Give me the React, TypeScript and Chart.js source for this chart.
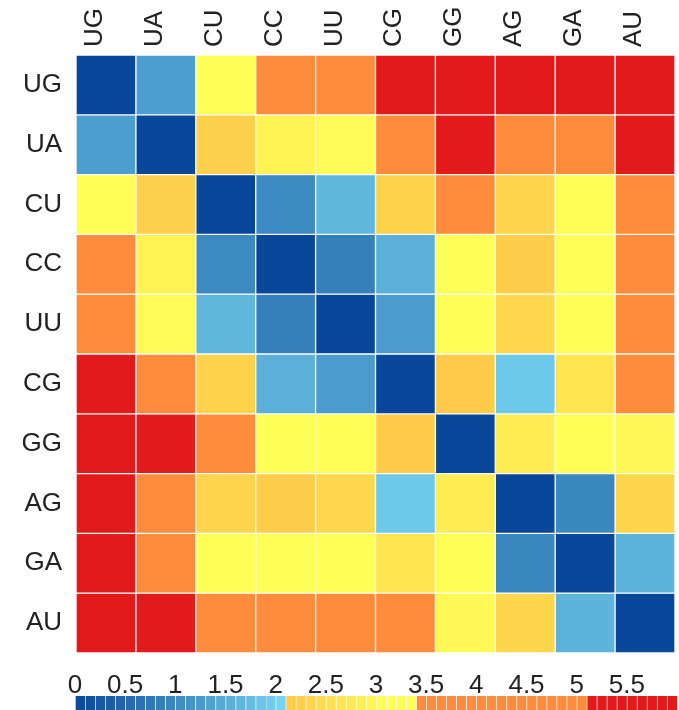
import React, { useEffect, useRef } from "react";
import { Chart, registerables } from "chart.js";

Chart.register(...registerables);

// ---- Data ----
const labels = ["UG", "UA", "CU", "CC", "UU", "CG", "GG", "AG", "GA", "AU"];

const rowUG = [0, 1.3, 3.1, 4.2, 4.4, 5.6, 5.8, 5.5, 5.6, 5.7];
const rowUA = [1.3, 0, 2.23, 2.88, 3.0, 4.4, 5.4, 4.5, 4.6, 5.3];
const rowCU = [3.1, 2.23, 0, 1.02, 1.65, 2.28, 3.8, 2.34, 3.2, 4.0];
const rowCC = [4.2, 2.88, 1.02, 0, 0.85, 1.55, 3.2, 2.19, 3.2, 4.1];
const rowUU = [4.4, 3.0, 1.65, 0.85, 0, 1.27, 3.2, 2.38, 3.2, 4.0];
const rowCG = [5.6, 4.4, 2.28, 1.55, 1.27, 0, 2.15, 1.9, 2.62, 3.9];
const rowGG = [5.8, 5.4, 3.8, 3.2, 3.2, 2.15, 0, 2.75, 3.2, 2.97];
const rowAG = [5.5, 4.5, 2.34, 2.19, 2.38, 1.9, 2.75, 0, 0.98, 2.36];
const rowGA = [5.6, 4.6, 3.2, 3.2, 3.2, 2.62, 3.2, 0.98, 0, 1.6];
const rowAU = [5.7, 5.3, 4.0, 4.1, 4.0, 3.9, 2.97, 2.36, 1.6, 0];

const matrix = [rowUG, rowUA, rowCU, rowCC, rowUU, rowCG, rowGG, rowAG, rowGA, rowAU];

const colorbarTicks = [0, 0.5, 1, 1.5, 2, 2.5, 3, 3.5, 4, 4.5, 5, 5.5];
const colorbarMax = 6;
const colorbarStep = 0.1;

// ---- Colour scale ----
const blueStops: [number, string][] = [
  [0, "#08479A"],
  [0.5, "#2566AE"],
  [1.0, "#3C89C1"],
  [1.5, "#57ACD7"],
  [2.1, "#77D7F3"],
];
const yellowStops: [number, string][] = [
  [2.1, "#FEC848"],
  [3.1, "#FFFF57"],
  [3.4, "#FFFF57"],
];
const orangeColor = "#FE8C3C";
const redColor = "#E31A1C";

function hexToRgb(h: string) {
  const n = parseInt(h.slice(1), 16);
  return [(n >> 16) & 255, (n >> 8) & 255, n & 255];
}
function interp(stops: [number, string][], v: number) {
  if (v <= stops[0][0]) return stops[0][1];
  for (let i = 0; i < stops.length - 1; i++) {
    const [a, ca] = stops[i];
    const [b, cb] = stops[i + 1];
    if (v <= b) {
      const t = (v - a) / (b - a);
      const A = hexToRgb(ca);
      const B = hexToRgb(cb);
      const c = A.map((x, k) => Math.round(x + (B[k] - x) * t));
      return `rgb(${c[0]},${c[1]},${c[2]})`;
    }
  }
  return stops[stops.length - 1][1];
}
function colorFor(v: number) {
  if (v < 2.1) return interp(blueStops, v);
  if (v < 3.4) return interp(yellowStops, v);
  if (v < 5.1) return orangeColor;
  return redColor;
}

const FONT = "'Liberation Sans', Arial, sans-serif";
const TEXT = "#222222";

export default function App() {
  const heatRef = useRef<HTMLCanvasElement | null>(null);
  const barRef = useRef<HTMLCanvasElement | null>(null);

  useEffect(() => {
    const heat = new Chart(heatRef.current!, {
      type: "bar",
      data: {
        labels,
        datasets: matrix.map((row, i) => ({
          label: labels[i],
          data: row.map(() => [i, i + 1]),
          backgroundColor: row.map(colorFor),
          borderColor: "#ffffff",
          borderWidth: 1,
          borderSkipped: false,
          barPercentage: 1,
          categoryPercentage: 1,
          grouped: false,
        })) as any,
      },
      options: {
        responsive: false,
        animation: false,
        devicePixelRatio: 1,
        layout: { padding: { left: 0, right: 4, top: 0, bottom: 7 } },
        plugins: { legend: { display: false }, tooltip: { enabled: false } },
        scales: {
          x: {
            type: "category",
            position: "top",
            offset: true,
            grid: { display: false, drawTicks: false },
            border: { display: false },
            ticks: {
              autoSkip: false,
              minRotation: 90,
              maxRotation: 90,
              padding: 8,
              labelOffset: 20,
              color: TEXT,
              font: { family: FONT, size: 26 },
            },
            afterFit: (s: any) => {
              s.height = 55;
              s.paddingLeft = 0;
              s.paddingRight = 0;
            },
          },
          y: {
            type: "linear",
            reverse: true,
            min: 0,
            max: 10,
            grid: { display: false, drawTicks: false },
            border: { display: false },
            afterBuildTicks: (s: any) => {
              s.ticks = labels.map((_, i) => ({ value: i + 0.5 }));
            },
            ticks: {
              padding: 14,
              color: TEXT,
              font: { family: FONT, size: 26 },
              callback: (v: any) => labels[Math.floor(Number(v))],
            },
            afterFit: (s: any) => {
              s.width = 76;
              s.paddingTop = 0;
              s.paddingBottom = 0;
            },
          },
        },
      } as any,
    });

    const nBlocks = Math.round(colorbarMax / colorbarStep);
    const blocks = Array.from({ length: nBlocks }, (_, k) => k * colorbarStep);
    const bar = new Chart(barRef.current!, {
      type: "bar",
      data: {
        labels: ["scale"],
        datasets: blocks.map((b) => ({
          data: [colorbarStep],
          backgroundColor: colorFor(b + colorbarStep / 2),
          borderColor: "rgba(255,255,255,0.35)",
          borderWidth: { left: 1, right: 0, top: 0, bottom: 0 },
          borderSkipped: false,
          barPercentage: 1,
          categoryPercentage: 1,
        })) as any,
      },
      options: {
        indexAxis: "y",
        responsive: false,
        animation: false,
        devicePixelRatio: 1,
        layout: { padding: { left: 75, right: 2, top: 0, bottom: 0 } },
        plugins: { legend: { display: false }, tooltip: { enabled: false } },
        scales: {
          x: {
            type: "linear",
            stacked: true,
            min: 0,
            max: colorbarMax,
            position: "top",
            grid: { display: false, drawTicks: false },
            border: { display: false },
            afterBuildTicks: (s: any) => {
              s.ticks = colorbarTicks.map((v) => ({ value: v }));
            },
            ticks: {
              autoSkip: false,
              maxRotation: 0,
              padding: -3,
              color: TEXT,
              font: { family: FONT, size: 26, lineHeight: 1 },
              callback: (v: any) => String(v),
            },
            afterFit: (s: any) => {
              s.height = 36;
              s.paddingLeft = 0;
              s.paddingRight = 0;
            },
          },
          y: { stacked: true, display: false },
        },
      } as any,
    });

    return () => {
      heat.destroy();
      bar.destroy();
    };
  }, []);

  return (
    <div
      style={{
        position: "fixed",
        left: 0,
        top: 0,
        width: 679,
        height: 710,
        background: "#ffffff",
      }}
    >
      <canvas
        ref={heatRef}
        width={679}
        height={660}
        style={{ position: "absolute", left: 0, top: 0, width: 679, height: 660 }}
      />
      <canvas
        ref={barRef}
        width={679}
        height={50}
        style={{ position: "absolute", left: 0, top: 660, width: 679, height: 50 }}
      />
    </div>
  );
}
